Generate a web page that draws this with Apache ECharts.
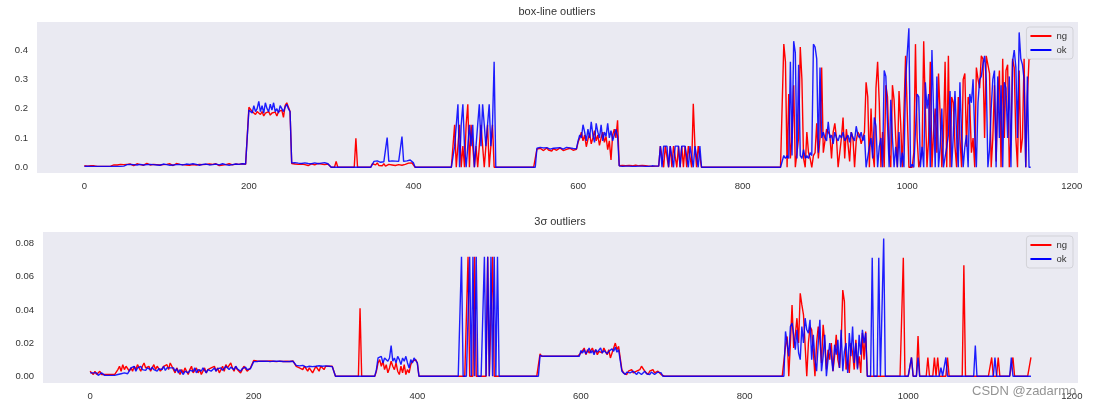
<!DOCTYPE html>
<html>
<head>
<meta charset="utf-8">
<title>outliers</title>
<script src="https://cdn.jsdelivr.net/npm/echarts@6/dist/echarts.min.js"></script>
<style>
    html, body { margin: 0; padding: 0; background: #fff; }
    #chart { width: 1097px; height: 407px; }
</style>
</head>
<body>
<div id="chart"></div>
<script>

    // samples are 2 x-units apart, starting at x = 0
    const STEP = 2;

    const xTicks = [0, 200, 400, 600, 800, 1000, 1200];
    const boxTicks = [0, 0.1, 0.2, 0.3, 0.4];
    const sigmaTicks = [0, 0.02, 0.04, 0.06, 0.08];

    // box-line outliers, ng
    const ngBox = [
        0.005,0.005,0.004,0.006,0.005, 0.004,0.005,0.003,0.003,0.003, 0.003,0.004,0.003,0.003,0.003, 0.003,0.004,0.009,0.008,0.010, 0.008,0.009,0.010,0.008,0.009,
        0.008,0.010,0.007,0.011,0.009, 0.006,0.010,0.012,0.008,0.009, 0.011,0.007,0.010,0.013,0.009, 0.008,0.011,0.010,0.006,0.009, 0.012,0.008,0.010,0.009,0.011,
        0.010,0.007,0.012,0.009,0.006, 0.011,0.013,0.008,0.010,0.006, 0.009,0.012,0.008,0.011,0.007, 0.010,0.009,0.012,0.008,0.006, 0.010,0.011,0.009,0.007,0.010,
        0.009,0.011,0.007,0.010,0.008, 0.012,0.009,0.006,0.010,0.008, 0.011,0.009,0.007,0.012,0.010, 0.008,0.009,0.011,0.007,0.010, 0.008,0.012,0.009,0.010,0.011,
        0.205,0.210,0.190,0.185,0.180, 0.190,0.185,0.180,0.190,0.175, 0.185,0.180,0.190,0.178,0.185, 0.180,0.188,0.175,0.190,0.185, 0.195,0.170,0.210,0.220,0.215,
        0.190,0.013,0.012,0.011,0.013, 0.010,0.012,0.011,0.013,0.009, 0.012,0.006,0.010,0.012,0.011, 0.008,0.012,0.013,0.010,0.011, 0.012,0.009,0.012,0.011,0.010,
        0,0,0,0.020,0, 0,0,0,0,0, 0,0,0,0,0, 0.099,0,0,0,0, 0,0,0,0,0,
        0.012,0.014,0.008,0.015,0.006, 0.010,0.005,0.012,0.004,0.006, 0.010,0.005,0.008,0.013,0.006, 0.004,0.009,0.012,0.007,0.005, 0.010,0.006,0.014,0.012,0.015,
        0.012,0,0,0,0, 0,0,0,0,0, 0,0,0,0,0, 0,0,0,0,0, 0,0,0,0,0,
        0.145,0,0.072,0.145,0, 0.072,0,0.145,0.215,0, 0.145,0.072,0,0.072,0, 0.072,0.145,0.072,0,0.072, 0.145,0,0.072,0.145,0,
        0,0,0,0,0, 0,0,0,0,0, 0,0,0,0,0, 0,0,0,0,0, 0,0,0,0,0,
        0.062,0.058,0.065,0.060,0.057, 0.063,0.066,0.059,0.061,0.055, 0.064,0.060,0.058,0.062,0.066, 0.060,0.057,0.063,0.061,0.059, 0.065,0.062,0.058,0.060,0.061,
        0.085,0.100,0.120,0.090,0.110, 0.070,0.095,0.115,0.080,0.100, 0.125,0.090,0.110,0.075,0.100, 0.120,0.085,0.105,0.060,0.090, 0.025,0.110,0.130,0.100,0.160,
        0.005,0.004,0.006,0.003,0.005, 0.004,0.006,0.003,0.005,0.004, 0.007,0.004,0.005,0.003,0.006, 0.004,0.005,0.003,0.004,0.006, 0.003,0.005,0.004,0.006,0.004,
        0.072,0.072,0,0.072,0.072, 0,0.072,0,0.072,0.072, 0,0.072,0,0.072,0, 0.072,0,0.072,0.072,0, 0.217,0.072,0,0.072,0.072,
        0,0,0,0,0, 0,0,0,0,0, 0,0,0,0,0, 0,0,0,0,0, 0,0,0,0,0,
        0,0,0,0,0, 0,0,0,0,0, 0,0,0,0,0, 0,0,0,0,0, 0,0,0,0,0,
        0.420,0.360,0,0.250,0.030, 0.100,0.280,0,0.050,0.100, 0.410,0.300,0.030,0,0.120, 0.050,0.030,0,0.040,0.050, 0.150,0.030,0.100,0.340,0.050,
        0.050,0.130,0.120,0.110,0.030, 0.120,0.150,0.100,0,0.050, 0.100,0.170,0.030,0.130,0.080, 0.020,0.120,0.100,0,0.090, 0.120,0.110,0.080,0.100,0.120,
        0.290,0.240,0,0.200,0.050, 0,0.270,0.360,0.220,0, 0.120,0,0.280,0.240,0.050, 0,0.280,0.230,0.100,0, 0.260,0.150,0,0,0.380,
        0.380,0,0,0,0.050, 0.420,0.100,0,0,0.050, 0.430,0.200,0,0.100,0.360, 0,0.120,0.200,0.050,0.320, 0.180,0,0.100,0.360,0,
        0.380,0,0.240,0.220,0.070, 0,0.240,0.100,0,0.300, 0.320,0.070,0.240,0.210,0.050, 0.100,0,0.340,0.300,0.270, 0.380,0.370,0.100,0.380,0.350,
        0.320,0,0.100,0.280,0.020, 0.240,0.330,0,0.370,0.100, 0.330,0.350,0,0.100,0.370, 0.340,0.100,0,0.330,0.050, 0.100,0.370,0,0.240,0.370,
        0.370
    ];

    // box-line outliers, ok
    const okBox = [
        0.003,0.003,0.004,0.003,0.003, 0.004,0.003,0.003,0.003,0.002, 0.003,0.003,0.003,0.003,0.003, 0.004,0.003,0.003,0.003,0.003, 0.003,0.003,0.003,0.003,0.004,
        0.008,0.009,0.007,0.010,0.008, 0.009,0.011,0.008,0.007,0.010, 0.009,0.008,0.011,0.009,0.007, 0.010,0.008,0.009,0.012,0.008, 0.010,0.007,0.009,0.011,0.008,
        0.009,0.011,0.007,0.010,0.008, 0.012,0.009,0.006,0.010,0.013, 0.008,0.009,0.011,0.007,0.010, 0.009,0.012,0.008,0.010,0.011, 0.007,0.009,0.010,0.008,0.011,
        0.010,0.008,0.012,0.009,0.007, 0.011,0.009,0.008,0.010,0.012, 0.008,0.009,0.011,0.007,0.010, 0.009,0.008,0.011,0.009,0.010, 0.007,0.012,0.009,0.011,0.010,
        0.195,0.200,0.185,0.210,0.190, 0.200,0.225,0.190,0.210,0.185, 0.220,0.200,0.190,0.215,0.195, 0.220,0.190,0.200,0.185,0.210, 0.200,0.190,0.205,0.215,0.200,
        0.190,0.015,0.013,0.016,0.012, 0.014,0.016,0.013,0.012,0.015, 0.014,0.013,0.016,0.012,0.014, 0.015,0.013,0.012,0.015,0.014, 0.013,0.016,0.014,0.012,0.014,
        0,0,0,0,0, 0,0,0,0,0, 0,0,0,0,0, 0,0,0,0,0, 0,0,0,0,0,
        0.010,0.020,0.018,0.022,0.020, 0.017,0.021,0.019,0.023,0.101, 0.020,0.018,0.022,0.019,0.021, 0.016,0.020,0.018,0.105,0.020, 0.017,0.022,0.020,0.025,0.020,
        0.015,0,0,0,0, 0,0,0,0,0, 0,0,0,0,0, 0,0,0,0,0, 0,0,0,0,0,
        0.072,0.072,0.215,0,0.145, 0.215,0.072,0,0.072,0.145, 0.072,0.145,0,0.072,0.145, 0.215,0.072,0.215,0.145,0.072, 0.145,0.215,0.072,0.145,0.360,
        0,0,0,0,0, 0,0,0,0,0, 0,0,0,0,0, 0,0,0,0,0, 0,0,0,0,0,
        0.065,0.060,0.068,0.063,0.066, 0.061,0.067,0.064,0.062,0.068, 0.065,0.060,0.066,0.063,0.067, 0.064,0.062,0.065,0.068,0.063, 0.066,0.061,0.064,0.062,0.063,
        0.090,0.110,0.100,0.145,0.120, 0.090,0.130,0.100,0.155,0.110, 0.085,0.150,0.120,0.100,0.145, 0.090,0.120,0.105,0.150,0.100, 0.125,0.090,0.110,0.130,0.105,
        0.005,0.004,0.003,0.005,0.004, 0.003,0.004,0.005,0.003,0.004, 0.003,0.005,0.004,0.003,0.004, 0.005,0.003,0.004,0.003,0.004, 0.005,0.003,0.004,0.003,0.004,
        0.072,0,0.072,0.072,0.072, 0,0.072,0.072,0,0.072, 0.072,0.072,0,0.072,0.072, 0.072,0.072,0,0.072,0.072, 0,0.072,0.072,0,0.072,
        0,0,0,0,0, 0,0,0,0,0, 0,0,0,0,0, 0,0,0,0,0, 0,0,0,0,0,
        0,0,0,0,0, 0,0,0,0,0, 0,0,0,0,0, 0,0,0,0,0, 0,0,0,0,0,
        0.040,0.030,0.040,0.030,0.360, 0.040,0.430,0.390,0.030,0.350, 0.040,0.030,0.060,0.030,0.040, 0.030,0.050,0.040,0.420,0.410, 0.370,0.050,0.340,0.100,0.120,
        0.100,0.090,0.155,0.100,0.110, 0.080,0.120,0.100,0.090,0.110, 0.100,0.120,0.090,0.100,0.110, 0.085,0.120,0.100,0.090,0.140, 0.110,0.100,0.120,0.090,0.110,
        0,0,0.070,0.100,0.030, 0.170,0.140,0,0.070,0.100, 0,0.330,0.310,0.150,0, 0.230,0.100,0,0.070,0, 0.120,0,0.050,0,0.300,
        0.300,0.474,0,0.010,0, 0,0.250,0.240,0,0.070, 0,0.290,0.200,0.250,0, 0.400,0.190,0,0.310,0, 0.070,0.200,0,0,0.070,
        0.110,0.260,0,0.110,0.260, 0.110,0,0.290,0.110,0, 0.070,0.110,0,0.250,0.220, 0.300,0.110,0,0.220,0.300, 0.310,0.350,0.380,0.300,0,
        0.060,0.200,0.300,0.330,0, 0.310,0.100,0.280,0,0.290, 0.270,0.100,0.310,0,0.360, 0.400,0.340,0.100,0.460,0.370, 0.350,0.300,0,0.310,0,
        0
    ];

    // 3σ outliers, ng
    const ngSigma = [
        0.003,0.002,0.001,0.003,0.001, 0.002,0.003,0.001,0.002,0.001, 0.001,0.001,0.001,0.001,0.002, 0.001,0.002,0.004,0.006,0.003, 0.007,0.004,0.006,0.005,0.003,
        0.005,0.003,0.006,0.004,0.007, 0.005,0.003,0.006,0.008,0.005, 0.004,0.006,0.003,0.005,0.007, 0.004,0.006,0.005,0.003,0.004, 0.006,0.005,0.007,0.004,0.008,
        0.006,0.004,0.002,0.005,0.003, 0.001,0.004,0.002,0.005,0.003, 0.001,0.004,0.006,0.002,0.003, 0.005,0.002,0.004,0.001,0.003, 0.005,0.002,0.004,0.003,0.005,
        0.004,0.006,0.003,0.005,0.002, 0.004,0.006,0.003,0.007,0.005, 0.004,0.008,0.005,0.003,0.006, 0.004,0.005,0.002,0.004,0.006, 0.005,0.003,0.004,0.005,0.006,
        0.0095,0.0090,0.0092,0.0088,0.0090, 0.0093,0.0090,0.0088,0.0091,0.0090, 0.0092,0.0089,0.0090,0.0093,0.0088, 0.0090,0.0091,0.0090,0.0089,0.0092, 0.0090,0.0091,0.0089,0.0090,0.0092,
        0.0090,0.0060,0.0055,0.0050,0.0060, 0.0040,0.0060,0.0055,0.0030,0.0050, 0.0060,0.0020,0.0040,0.0060,0.0050, 0.0030,0.0060,0.0055,0.0040,0.0060, 0.0050,0.0060,0.0055,0.0060,0.0050,
        0,0,0,0.001,0, 0,0,0,0,0, 0,0,0,0,0, 0.041,0,0,0,0, 0,0,0,0,0,
        0.003,0.008,0.010,0.006,0.009, 0.004,0.007,0.002,0.005,0.009, 0.006,0.004,0.008,0.003,0.001, 0.006,0.002,0.007,0.001,0.004, 0.002,0.007,0.009,0.008,0.010,
        0.008,0,0,0,0, 0,0,0,0,0, 0,0,0,0,0, 0,0,0,0,0, 0,0,0,0,0,
        0,0,0,0,0, 0,0.072,0,0,0, 0.072,0,0,0,0, 0,0,0,0.072,0, 0,0.072,0,0,0,
        0,0,0,0,0, 0,0,0,0,0, 0,0,0,0,0, 0,0,0,0,0, 0,0,0,0,0,
        0.0135,0.012,0.012,0.012,0.012, 0.012,0.012,0.012,0.012,0.012, 0.012,0.012,0.012,0.012,0.012, 0.012,0.012,0.012,0.012,0.012, 0.012,0.012,0.012,0.012,0.012,
        0.014,0.015,0.017,0.013,0.016, 0.014,0.015,0.017,0.014,0.016, 0.013,0.015,0.016,0.014,0.017, 0.015,0.013,0.016,0.011,0.014, 0.017,0.020,0.016,0.018,0.017,
        0.004,0.002,0.003,0.001,0.003, 0.002,0.004,0.002,0.001,0.003, 0.002,0.004,0.006,0.005,0.003, 0.002,0.001,0.003,0.002,0.004, 0.002,0.001,0.003,0.002,0.001,
        0,0,0,0,0, 0,0,0,0,0, 0,0,0,0,0, 0,0,0,0,0, 0,0,0,0,0,
        0,0,0,0,0, 0,0,0,0,0, 0,0,0,0,0, 0,0,0,0,0, 0,0,0,0,0,
        0,0,0,0,0, 0,0,0,0,0, 0,0,0,0,0, 0,0,0,0,0, 0,0,0,0,0,
        0.018,0.024,0,0.020,0.043, 0.017,0.025,0.035,0.020,0.050, 0.043,0.037,0.036,0,0.020, 0.030,0.028,0.015,0,0.020, 0.030,0.022,0.008,0.031,0.020,
        0.004,0.016,0.010,0.020,0.003, 0.012,0.025,0.010,0.005,0.020, 0.052,0.045,0.004,0.010,0.002, 0.020,0.014,0.004,0.022,0.005, 0.012,0.002,0.026,0.010,0.027,
        0,0,0,0,0, 0,0,0,0,0, 0,0,0,0,0, 0,0,0,0,0, 0,0,0.0715,0,0,
        0,0,0.0113,0,0, 0,0.0243,0,0,0, 0,0,0.0113,0,0, 0,0.0113,0,0.0113,0, 0,0,0,0,0.0113,
        0,0,0,0,0, 0,0,0,0,0.067, 0,0,0,0,0, 0,0,0,0,0, 0,0,0,0,0,
        0,0.0113,0,0,0, 0.0113,0,0,0,0, 0,0,0,0,0.0113, 0,0,0,0,0, 0,0,0,0,0,
        0.0113
    ];

    // 3σ outliers, ok
    const okSigma = [
        0.002,0.001,0.002,0.001,0.002, 0.0005,0.001,0.002,0.001,0.0005, 0.0005,0.0005,0.0005,0.0005,0.001, 0.0005,0.001,0.001,0.001,0.0015, 0.001,0.002,0.001,0.0015,0.002,
        0.005,0.004,0.006,0.003,0.005, 0.0045,0.006,0.004,0.005,0.0035, 0.005,0.006,0.004,0.0055,0.004, 0.005,0.003,0.0045,0.005,0.004, 0.006,0.0035,0.005,0.004,0.005,
        0.004,0.005,0.003,0.0045,0.002, 0.004,0.003,0.001,0.003,0.004, 0.002,0.0035,0.004,0.003,0.005, 0.002,0.004,0.0035,0.003,0.005, 0.004,0.002,0.004,0.005,0.003,
        0.004,0.005,0.003,0.0045,0.004, 0.005,0.0035,0.004,0.006,0.005, 0.004,0.0055,0.005,0.004,0.006, 0.0045,0.005,0.003,0.0045,0.005, 0.0055,0.004,0.005,0.0045,0.005,
        0.0088,0.0090,0.0089,0.0090,0.0091, 0.0088,0.0090,0.0089,0.0091,0.0090, 0.0088,0.0090,0.0091,0.0089,0.0090, 0.0088,0.0090,0.0091,0.0089,0.0090, 0.0088,0.0090,0.0089,0.0091,0.0090,
        0.0088,0.0065,0.0060,0.0062,0.0058, 0.0065,0.0060,0.0055,0.0063,0.0060, 0.0066,0.0058,0.0062,0.0060,0.0057, 0.0063,0.0065,0.0060,0.0058,0.0062, 0.0066,0.0060,0.0064,0.0058,0.0062,
        0,0,0,0,0, 0,0,0,0,0, 0,0,0,0,0, 0,0,0,0,0, 0,0,0,0,0,
        0.004,0.011,0.010,0.012,0.008, 0.011,0.010,0.009,0.011,0.0185, 0.009,0.011,0.008,0.012,0.010, 0.007,0.011,0.009,0.012,0.008, 0.005,0.010,0.008,0.011,0.010,
        0.008,0,0,0,0, 0,0,0,0,0, 0,0,0,0,0, 0,0,0,0,0, 0,0,0,0,0,
        0,0,0.072,0,0, 0,0,0.072,0,0.072, 0,0.072,0,0,0, 0,0.072,0,0.072,0, 0.072,0,0.072,0,0.072,
        0,0,0,0,0, 0,0,0,0,0, 0,0,0,0,0, 0,0,0,0,0, 0,0,0,0,0,
        0.0125,0.012,0.012,0.012,0.012, 0.012,0.012,0.012,0.012,0.012, 0.012,0.012,0.012,0.012,0.012, 0.012,0.012,0.012,0.012,0.012, 0.012,0.012,0.012,0.012,0.012,
        0.0155,0.014,0.016,0.0135,0.015, 0.017,0.014,0.0155,0.013,0.016, 0.0145,0.015,0.017,0.014,0.0155, 0.016,0.0135,0.015,0.014,0.0165, 0.015,0.0175,0.0145,0.016,0.015,
        0.003,0.002,0.001,0.0025,0.0015, 0.002,0.001,0.003,0.002,0.001, 0.0025,0.002,0.001,0.002,0.003, 0.0015,0.002,0.001,0.0025,0.002, 0.001,0.002,0.0025,0.0015,0.002,
        0,0,0,0,0, 0,0,0,0,0, 0,0,0,0,0, 0,0,0,0,0, 0,0,0,0,0,
        0,0,0,0,0, 0,0,0,0,0, 0,0,0,0,0, 0,0,0,0,0, 0,0,0,0,0,
        0,0,0,0,0, 0,0,0,0,0, 0,0,0,0,0, 0,0,0,0,0, 0,0,0,0,0,
        0.027,0.020,0.012,0.030,0.032, 0.025,0.016,0.028,0.014,0.010, 0.030,0.020,0.035,0.028,0.026, 0.034,0.010,0.025,0.010,0.003, 0.020,0.034,0.003,0.012,0.025,
        0,0.010,0.020,0.012,0.003, 0.019,0.013,0.022,0.005,0.028, 0.003,0.015,0.020,0.002,0.026, 0.012,0.030,0.008,0.020,0.004, 0.025,0.013,0.028,0.020,0.026,
        0,0,0,0.0715,0, 0,0,0.0715,0,0, 0.0831,0,0,0,0, 0,0,0,0,0, 0,0,0,0,0,
        0,0,0.0113,0,0, 0,0.0113,0,0,0, 0,0,0,0,0, 0,0,0,0,0, 0.0052,0,0,0.0113,0,
        0,0,0,0,0, 0,0,0,0,0, 0,0,0,0,0, 0,0.0185,0,0,0, 0,0,0,0,0,
        0,0,0,0.0113,0, 0,0,0,0,0, 0,0,0,0.0113,0, 0,0,0,0,0, 0,0,0,0,0,
        0
    ];

    const FONT = '"Liberation Sans", Arial, sans-serif';
    const TEXT_COLOR = '#333';
    const PLOT_BG = '#eaeaf2';

    const toPairs = (values) => values.map((v, i) => [i * STEP, v]);

    function xAxisFor(gridIndex, margin) {
        return {
            type: 'value',
            gridIndex: gridIndex,
            min: -57.5,
            max: 1207.5,
            axisLine: { show: false },
            axisTick: { show: false },
            splitLine: { show: false },
            axisLabel: {
                customValues: xTicks,
                margin: margin,
                color: TEXT_COLOR,
                fontSize: 9.5,
                fontFamily: FONT,
                formatter: (v) => String(v)
            }
        };
    }

    function yAxisFor(gridIndex, min, max, ticks, digits) {
        return {
            type: 'value',
            gridIndex: gridIndex,
            min: min,
            max: max,
            axisLine: { show: false },
            axisTick: { show: false },
            splitLine: { show: false },
            axisLabel: {
                customValues: ticks,
                margin: 9,
                color: TEXT_COLOR,
                fontSize: 9.5,
                fontFamily: FONT,
                formatter: (v) => v.toFixed(digits)
            }
        };
    }

    function lineSeries(name, values, color, axisIndex, opacity) {
        return {
            name: name,
            type: 'line',
            xAxisIndex: axisIndex,
            yAxisIndex: axisIndex,
            data: toPairs(values),
            showSymbol: false,
            symbol: 'none',
            animation: false,
            silent: true,
            itemStyle: { color: color },
            lineStyle: { color: color, width: 1.4, opacity: opacity }
        };
    }

    function legendAt(top) {
        return {
            data: ['ng', 'ok'],
            orient: 'vertical',
            right: 24,
            top: top,
            icon: 'rect',
            itemWidth: 21,
            itemHeight: 2,
            itemGap: 4,
            padding: [4, 6, 4, 4],
            backgroundColor: PLOT_BG,
            borderColor: '#d2d2d8',
            borderWidth: 1,
            borderRadius: 3,
            textStyle: { color: TEXT_COLOR, fontSize: 9.5, fontFamily: FONT }
        };
    }

    function titleText(text, x, y) {
        return {
            type: 'text',
            x: x,
            y: y,
            style: {
                text: text,
                fill: TEXT_COLOR,
                font: '11px ' + FONT,
                align: 'center',
                textAlign: 'center',
                verticalAlign: 'middle',
                textVerticalAlign: 'middle'
            }
        };
    }

    const chart = echarts.init(document.getElementById('chart'), null, { renderer: 'canvas' });

    chart.setOption({
        animation: false,
        backgroundColor: '#ffffff',
        grid: [
            { left: 37, right: 19, top: 22, height: 151, show: true, backgroundColor: PLOT_BG, borderWidth: 0 },
            { left: 43, right: 19, top: 232, height: 151, show: true, backgroundColor: PLOT_BG, borderWidth: 0 }
        ],
        xAxis: [
            xAxisFor(0, 8.5),
            xAxisFor(1, 8)
        ],
        yAxis: [
            yAxisFor(0, -0.0195, 0.4955, boxTicks, 1),
            yAxisFor(1, -0.0041, 0.087, sigmaTicks, 2)
        ],
        legend: [legendAt(27), legendAt(236)],
        series: [
            lineSeries('ng', ngBox, '#ff0000', 0, 1),
            lineSeries('ok', okBox, '#0000ff', 0, 0.88),
            lineSeries('ng', ngSigma, '#ff0000', 1, 1),
            lineSeries('ok', okSigma, '#0000ff', 1, 0.88)
        ],
        graphic: [
            titleText('box-line outliers', 557, 12),
            titleText('3σ outliers', 560, 222),
            {
                type: 'text',
                x: 972,
                y: 391,
                z: 100,
                style: {
                    text: 'CSDN @zadarmo',
                    fill: 'rgba(120, 120, 120, 0.8)',
                    font: '13px ' + FONT,
                    verticalAlign: 'middle',
                    textVerticalAlign: 'middle'
                }
            }
        ]
    });

</script>
</body>
</html>
